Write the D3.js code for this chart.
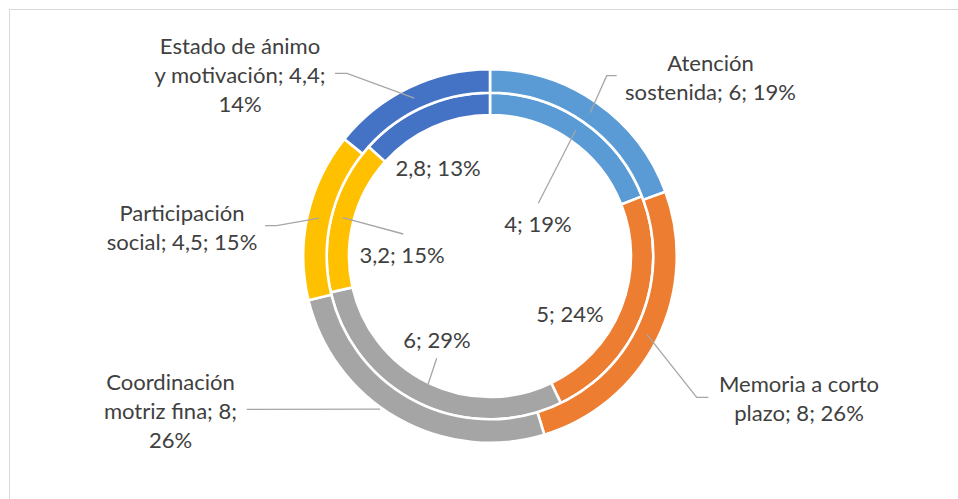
<!DOCTYPE html>
<html><head><meta charset="utf-8">
<script src="https://cdn.jsdelivr.net/npm/d3@7"></script>
<style>body{margin:0;background:#fff;} svg{display:block;}</style>
</head><body>
<svg id="chart" width="958" height="499"></svg>
<script>
// ---- data ----
const categories = ["Atención sostenida", "Memoria a corto plazo", "Coordinación motriz fina", "Participación social", "Estado de ánimo y motivación"];
const outerValues = [6, 8, 8, 4.5, 4.4];
const innerValues = [4, 5, 6, 3.2, 2.8];
const colors = ["#5B9BD5", "#ED7D31", "#A5A5A5", "#FFC000", "#4472C4"];

// ---- layout (label placement, as positioned in the original) ----
const outerLabelLayout = [
  {x: 710.5, base: 70.7, breaks: [1], leader: [[616.7, 75.7], [606.7, 75.7]]},
  {x: 799, base: 391.7, breaks: [3], leader: [[708.3, 397.3], [696.7, 397.3]]},
  {x: 170.5, base: 390, breaks: [1, 4], leader: [[246.7, 409.3]], endOffset: 6, endR: 188.5},
  {x: 182, base: 220.7, breaks: [1], leader: [[265, 225.7], [276.7, 225.7]]},
  {x: 240, base: 54.3, breaks: [3, 6], leader: [[335, 73.3], [347, 73.3]]}
];
const innerLabelLayout = [
  {x: 538, base: 231.7, breaks: [], leader: [[538.3, 203.3]]},
  {x: 570, base: 321.7, breaks: [], leader: null},
  {x: 437, base: 348.3, breaks: [], leader: [[436.7, 358.3]], endR: 143.5},
  {x: 402, base: 262.7, breaks: [], leader: [[403.3, 234]]},
  {x: 438, base: 176, breaks: [], leader: null}
];

const W = 958, H = 499;
const cx = 490, cy = 256;
const lineH = 29;
const textColor = "#404040";
const leaderColor = "#A6A6A6";
const fontFamily = "Lato, 'Open Sans', sans-serif";

const svg = d3.select("#chart");
svg.append("rect").attr("x", 9.5).attr("y", 9.5).attr("width", 1000).attr("height", 600)
  .attr("fill", "#fff").attr("stroke", "#D9D9D9").attr("stroke-width", 1);

// fit font size so the text width matches the original's Calibri metrics
const probe = svg.append("text").attr("font-family", fontFamily).attr("font-size", 100).text("sostenida; 6; 19%");
const probeW = probe.node().getComputedTextLength();
probe.remove();
const fontSize = 171 / probeW * 100;

const g = svg.append("g").attr("transform", `translate(${cx},${cy})`);
const pie = d3.pie().sort(null).value(d => d);
const rings = [
  {name: "inner", values: innerValues, r0: 141, r1: 163.3, layout: innerLabelLayout, withName: false},
  {name: "outer", values: outerValues, r0: 163.3, r1: 186.8, layout: outerLabelLayout, withName: true}
];

const fmt = v => String(v).replace(".", ",");

rings.forEach(ring => {
  const arcs = pie(ring.values);
  const arc = d3.arc().innerRadius(ring.r0).outerRadius(ring.r1);
  g.append("g").selectAll("path").data(arcs).join("path")
    .attr("d", arc)
    .attr("fill", (d, i) => colors[i])
    .attr("stroke", "#fff").attr("stroke-width", 2.6).attr("stroke-linejoin", "miter");
  ring.arcs = arcs;
  ring.total = d3.sum(ring.values);
});

// leaders
const leaderG = svg.append("g");
const labelG = svg.append("g");
rings.forEach(ring => {
  ring.arcs.forEach((d, i) => {
    const L = ring.layout[i];
    if (L.leader) {
      const mid = (d.startAngle + d.endAngle) / 2 + (L.endOffset || 0) * Math.PI / 180;
      const r = L.endR || (ring.r0 + ring.r1) / 2;
      const end = [cx + r * Math.sin(mid), cy - r * Math.cos(mid)];
      const pts = L.leader.concat([end]);
      leaderG.append("path")
        .attr("d", d3.line()(pts))
        .attr("fill", "none").attr("stroke", leaderColor).attr("stroke-width", 1.3);
    }
    const pct = Math.round(d.value / ring.total * 100) + "%";
    const full = (ring.withName ? categories[i] + "; " : "") + fmt(d.value) + "; " + pct;
    const words = full.split(" ");
    const cuts = [0].concat(L.breaks, [words.length]);
    const lines = [];
    for (let k = 0; k < cuts.length - 1; k++) lines.push(words.slice(cuts[k], cuts[k + 1]).join(" "));
    const t = labelG.append("text")
      .attr("font-family", fontFamily).attr("font-size", fontSize)
      .attr("fill", textColor).attr("text-anchor", "middle");
    lines.forEach((ln, k) => {
      t.append("tspan").attr("x", L.x).attr("y", L.base + k * lineH).text(ln);
    });
  });
});
</script>
</body></html>
